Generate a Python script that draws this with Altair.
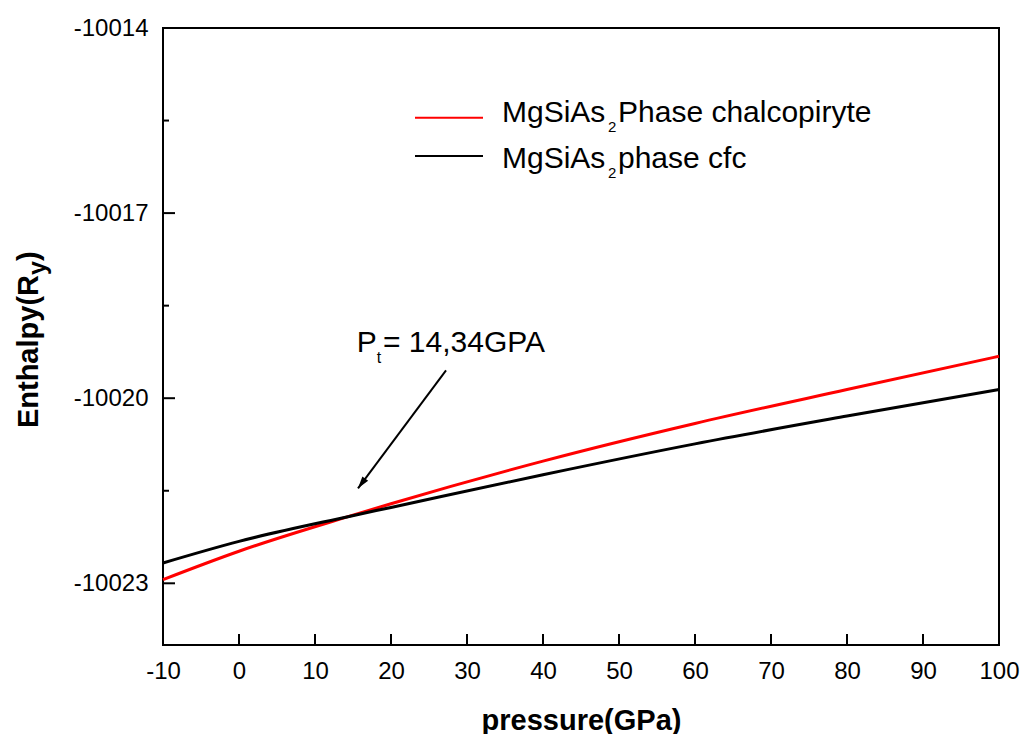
import math
import altair as alt
import pandas as pd

# ---------------- data ----------------
pressure = [-10, 0, 14.34, 20, 40, 60, 80, 100]
h_chalco = [-10022.94, -10022.48, -10021.92, -10021.71, -10021.02, -10020.41, -10019.86, -10019.32]
h_cfc = [-10022.67, -10022.32, -10021.92, -10021.77, -10021.24, -10020.74, -10020.29, -10019.86]
series_names = ["chalcopiryte", "cfc"]
series_colors = ["#ff0000", "#000000"]

x_ticks = [-10, 0, 10, 20, 30, 40, 50, 60, 70, 80, 90, 100]
x_inner_ticks = [0, 10, 20, 30, 40, 50, 60, 70, 80, 90]
y_major = [-10023, -10020, -10017, -10014]
y_minor = [-10021.5, -10018.5, -10015.5]

legend_main = ["MgSiAs", "MgSiAs"]
legend_sub = ["2", "2"]
legend_rest = ["Phase chalcopiryte", "phase cfc"]

annot_main = "P"
annot_sub = "t"
annot_rest = "= 14,34GPA"
arrow_from = [27.24, -10019.55]
arrow_to = [15.66, -10021.46]

x_title = "pressure(GPa)"
y_title_main = "Enthalpy(R"
y_title_sub = "y"
y_title_end = ")"

# ---------------- layout ----------------
W, H = 836, 617
FONT = "Liberation Sans"
X_DOM = [-10, 100]
Y_DOM = [-10024, -10014]

xs = alt.Scale(domain=X_DOM, nice=False, zero=False)
ys = alt.Scale(domain=Y_DOM, nice=False, zero=False)

X_AXIS = alt.Axis(values=x_ticks, title=x_title, grid=False, domain=False,
                  ticks=False, tickSize=0, labelPadding=14,
                  labelFlush=False, labelOverlap=False,
                  labelExpr="'' + datum.value",
                  labelFont=FONT, labelFontSize=24, labelColor="black",
                  titleFont=FONT, titleFontSize=29, titleFontWeight="bold",
                  titleColor="black", titleBaseline="alphabetic", titleY=84)
Y_AXIS = alt.Axis(values=y_major, title=None, grid=False, domain=False,
                  ticks=False, tickSize=0, labelPadding=15,
                  labelFlush=False, labelOverlap=False,
                  labelExpr="'' + datum.value",
                  labelFont=FONT, labelFontSize=24, labelColor="black")


def X(field="pressure"):
    return alt.X(f"{field}:Q", scale=xs, axis=X_AXIS, title=x_title)


def Y(field="enthalpy"):
    return alt.Y(f"{field}:Q", scale=ys, axis=Y_AXIS, title=None)


df = pd.DataFrame({
    "pressure": pressure * 2,
    "enthalpy": h_chalco + h_cfc,
    "phase": [series_names[0]] * len(pressure) + [series_names[1]] * len(pressure),
})

lines = alt.Chart(df).mark_line(strokeWidth=3, interpolate="monotone").encode(
    x=X(), y=Y(),
    color=alt.Color("phase:N", scale=alt.Scale(domain=series_names, range=series_colors),
                    legend=None),
    detail="phase:N",
)

# inward ticks
ymaj = alt.Chart(pd.DataFrame({"enthalpy": y_major[:-1]})).mark_rule(color="black", strokeWidth=2).encode(
    y=Y(), x=alt.value(0), x2=alt.value(12))
ymin = alt.Chart(pd.DataFrame({"enthalpy": y_minor})).mark_rule(color="black", strokeWidth=2).encode(
    y=Y(), x=alt.value(0), x2=alt.value(6))
xtk = alt.Chart(pd.DataFrame({"pressure": x_inner_ticks})).mark_rule(color="black", strokeWidth=2).encode(
    x=X(), y=alt.value(H), y2=alt.value(H - 11))

# arrow
arrow_df = pd.DataFrame({"pressure": [arrow_from[0]], "enthalpy": [arrow_from[1]],
                         "p2": [arrow_to[0]], "e2": [arrow_to[1]]})
arrow_line = alt.Chart(arrow_df).mark_rule(color="black", strokeWidth=2).encode(
    x=X(), y=Y(), x2="p2:Q", y2="e2:Q")
sx = W / (X_DOM[1] - X_DOM[0])
sy = H / (Y_DOM[1] - Y_DOM[0])
ddx = (arrow_to[0] - arrow_from[0]) * sx
ddy = -(arrow_to[1] - arrow_from[1]) * sy
theta = math.degrees(math.atan2(ddx, -ddy)) % 360
head_df = pd.DataFrame({"pressure": [arrow_to[0]], "enthalpy": [arrow_to[1]]})
arrow_head = alt.Chart(head_df).mark_point(
    shape="M0,0 L-0.45,1.5 L0.45,1.5 Z", filled=True, color="black", opacity=1,
    size=260, angle=theta, strokeWidth=0).encode(x=X(), y=Y())


def txt(s, x, y, size, weight="normal", align="left", angle=0, dx=0, dy=0):
    return alt.Chart(pd.DataFrame({"t": [s]})).mark_text(
        font=FONT, fontSize=size, fontWeight=weight, align=align, baseline="alphabetic",
        angle=angle, dx=dx, dy=dy, color="black").encode(
        x=alt.value(x), y=alt.value(y), text="t:N")


# legend
leg = []
leg_line_y = [89.7, 128]
leg_base_y = [93.7, 140.3]
for i in range(2):
    leg.append(alt.Chart(pd.DataFrame({"t": [legend_rest[i]]})).mark_rule(
        color=series_colors[i], strokeWidth=2).encode(
        x=alt.value(252), x2=alt.value(320), y=alt.value(leg_line_y[i])))
    leg.append(txt(legend_main[i], 339, leg_base_y[i], 30))
    leg.append(txt(legend_sub[i], 445, leg_base_y[i] + 10, 15))
    leg.append(txt(legend_rest[i], 455, leg_base_y[i], 30))

# annotation
ann = [
    txt(annot_main, 193.7, 323.7, 30),
    txt(annot_sub, 213.7, 334.7, 16),
    txt(annot_rest, 220, 323.7, 30),
]

# y title (rotated, with subscript)
yt = [
    txt(y_title_main, -125, 247, 29, weight="bold", align="right", angle=270),
    txt(y_title_sub, -125, 247, 25, weight="bold", align="left", angle=270, dy=8),
    txt(y_title_end, -125, 247, 29, weight="bold", align="left", angle=270, dx=14),
]

chart = alt.layer(lines, ymaj, ymin, xtk, arrow_line, arrow_head, *leg, *ann, *yt).properties(
    width=W, height=H,
    autosize=alt.AutoSizeParams(type="none"),
    padding={"left": 163, "top": 28, "right": 24, "bottom": 89},
    background="white",
).configure_view(stroke="black", strokeWidth=2)

chart.save("out.html", embed_options={"renderer": "svg", "actions": False})
